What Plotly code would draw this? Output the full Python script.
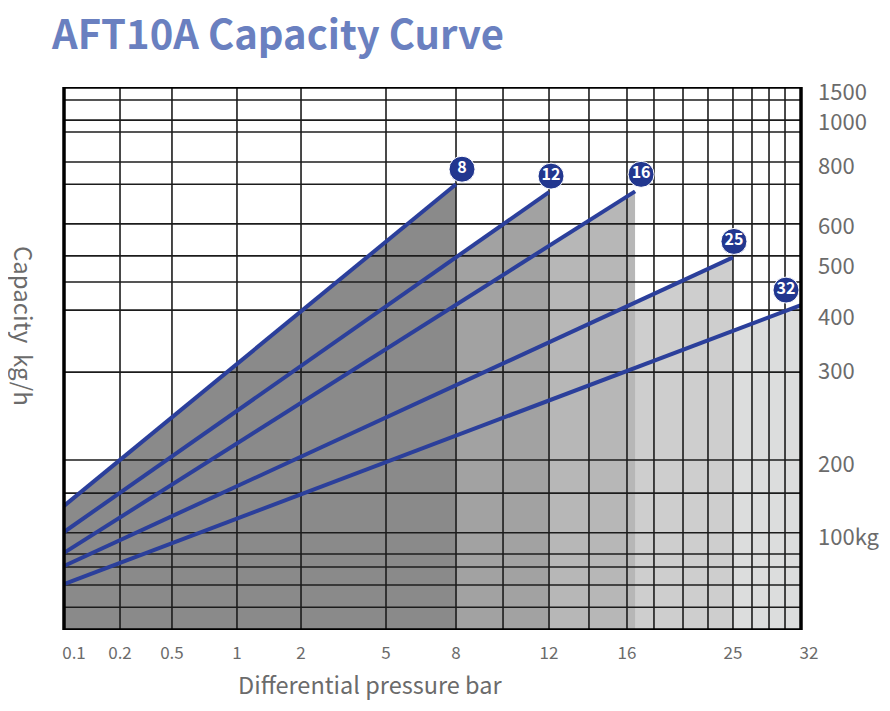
import numpy as np
import plotly.graph_objects as go

# ---------------- data ----------------
series_names = ["8", "12", "16", "25", "32"]          # curve labels (max differential pressure)
min_pressure = 0.1                                     # bar, where every curve starts
max_pressure = [8, 12, 16.6, 25, 32]                   # bar, where each curve ends
cap_at_min = [134, 101, 90.5, 80.8, 70.5]              # kg/h at 0.1 bar
cap_at_max = [700, 680, 682, 497, 409]                 # kg/h at the curve end

x_tick_values = [0.1, 0.2, 0.5, 1, 2, 5, 8, 12, 16, 25, 32]
x_tick_labels = ["0.1", "0.2", "0.5", "1", "2", "5", "8", "12", "16", "25", "32"]
y_tick_values = [100, 200, 300, 400, 500, 600, 800, 1000, 1500]
y_tick_labels = ["100kg", "200", "300", "400", "500", "600", "800", "1000", "1500"]

# ------------- the chart's own hand-drawn (non-uniform) scales -------------
# grid values and their relative position inside the frame (0 = left/bottom, 1 = right/top)
X_GRID_VALUES = [0.1, 0.2, 0.5, 1, 2, 5, 8, 10, 12, 14, 16, 18, 20, 22, 25, 27, 29, 30.5, 32]
X_GRID_FRAC = [0.0, 0.076, 0.1465, 0.2347, 0.3216, 0.4369, 0.5319, 0.5957, 0.6581, 0.7123,
               0.7639, 0.8005, 0.8399, 0.8738, 0.9077, 0.9335, 0.9566, 0.9783, 1.0]
Y_GRID_VALUES = [60, 70, 80, 90, 100, 150, 200, 300, 400, 450, 500, 600, 700, 800, 900, 1000, 1500]
Y_GRID_FRAC = [0.042, 0.083, 0.116, 0.140, 0.179, 0.252, 0.313, 0.475, 0.589, 0.641,
               0.689, 0.748, 0.821, 0.862, 0.917, 0.939, 0.976]


def sx(v):
    return float(np.interp(v, X_GRID_VALUES, X_GRID_FRAC))


def sy(v):
    return float(np.interp(v, Y_GRID_VALUES, Y_GRID_FRAC))


# ---------------- layout / style ----------------
W, H = 890, 711
PAGE_OFF = 8                      # default body margin of the page holding the figure
FRAME_L, FRAME_R, FRAME_T, FRAME_B = 64, 801, 87, 630   # frame in window pixels
FW, FH = FRAME_R - FRAME_L, FRAME_B - FRAME_T
AX_L, AX_R = 54, 811              # x-axis range drawn a little wider than the frame
M_L = AX_L - PAGE_OFF
M_R = W - (AX_R - PAGE_OFF)
M_T = FRAME_T - PAGE_OFF
M_B = H - (FRAME_B - PAGE_OFF)
FONT = "Noto Sans CJK SC"
GRAY_TXT = "#6b6b6b"
LINE_BLUE = "#2b3f9b"
DOT_BLUE = "#22378f"
FILL_COLORS = ["#8a8a8a", "#a2a2a2", "#b7b7b7", "#cecece", "#dcdddd"]
LABEL_OFFSET_PX = [(6, -15), (2, -16), (6, -17), (1, -16), (-15, -15)]   # badge offset from curve end
X_LABEL_NUDGE_PX = {0.1: 10, 32: 8}
Y_LABEL_NUDGE_PX = {1500: -8, 1000: 2, 800: 4, 600: 2, 500: 10, 400: 7, 300: -1, 200: 4, 100: 4}


def paper_xy(px, py):
    """window pixel -> paper coordinates"""
    pw = W - M_L - M_R
    ph = H - M_T - M_B
    return (px - PAGE_OFF - M_L) / pw, (H - M_B - (py - PAGE_OFF)) / ph


fig = go.Figure()

# filled areas (lightest first so darker ones sit on top)
for i in reversed(range(len(series_names))):
    xs = [sx(min_pressure), sx(max_pressure[i])]
    ys = [sy(cap_at_min[i]), sy(cap_at_max[i])]
    fig.add_trace(go.Scatter(x=xs, y=ys, mode="lines", fill="tozeroy",
                             fillcolor=FILL_COLORS[i], line=dict(width=0, color=FILL_COLORS[i]),
                             hoverinfo="skip", showlegend=False))

# grid lines (drawn over the fills)
gx, gy = [], []
for f in X_GRID_FRAC[1:-1]:
    gx += [f, f, None]
    gy += [0, 1, None]
for f in Y_GRID_FRAC:
    gx += [0, 1, None]
    gy += [f, f, None]
fig.add_trace(go.Scatter(x=gx, y=gy, mode="lines", line=dict(color="#1c1c1c", width=1.6),
                         hoverinfo="skip", showlegend=False))

# capacity curves
for i in range(len(series_names)):
    xs = [sx(min_pressure), sx(max_pressure[i])]
    ys = [sy(cap_at_min[i]), sy(cap_at_max[i])]
    fig.add_trace(go.Scatter(x=xs, y=ys, mode="lines", line=dict(color=LINE_BLUE, width=4),
                             name=series_names[i], showlegend=False))

# numbered badges at curve ends
bx, by = [], []
for i in range(len(series_names)):
    dx, dy = LABEL_OFFSET_PX[i]
    bx.append(sx(max_pressure[i]) + dx / FW)
    by.append(sy(cap_at_max[i]) - dy / FH)
fig.add_trace(go.Scatter(x=bx, y=by, mode="markers+text", text=series_names,
                         textposition="middle center",
                         textfont=dict(family=FONT, size=16, color="white", weight="bold"),
                         marker=dict(size=26, color=DOT_BLUE, line=dict(color="white", width=1)),
                         hoverinfo="skip", showlegend=False))

# frame
fig.add_shape(type="rect", xref="x", yref="y", x0=0, x1=1, y0=0, y1=1,
              line=dict(color="black", width=3.5), layer="above")

ext_l = (FRAME_L - AX_L) / FW
ext_r = (AX_R - FRAME_R) / FW
fig.update_xaxes(range=[-ext_l, 1 + ext_r], showgrid=False, zeroline=False, showline=False,
                 ticks="", automargin=False, fixedrange=True,
                 tickvals=[sx(v) + X_LABEL_NUDGE_PX.get(v, 0) / FW for v in x_tick_values],
                 ticktext=x_tick_labels, ticklabelstandoff=11,
                 tickfont=dict(family=FONT, size=17, color=GRAY_TXT))
fig.update_yaxes(range=[0, 1], side="right", showgrid=False, zeroline=False, showline=False,
                 ticks="", automargin=False, fixedrange=True,
                 tickvals=[sy(v) - Y_LABEL_NUDGE_PX.get(v, 0) / FH for v in y_tick_values],
                 ticktext=y_tick_labels, ticklabelstandoff=6,
                 tickfont=dict(family=FONT, size=22, color=GRAY_TXT))

tx, ty = paper_xy(49, 32)
fig.add_annotation(text="<b>AFT10A Capacity Curve</b>", xref="paper", yref="paper", x=tx, y=ty,
                   xanchor="left", yanchor="middle", showarrow=False,
                   font=dict(family=FONT, size=40, color="#6a80c0"))
ax_, ay_ = paper_xy(370, 684)
fig.add_annotation(text="Differential pressure bar", xref="paper", yref="paper", x=ax_, y=ay_,
                   xanchor="center", yanchor="middle", showarrow=False,
                   font=dict(family=FONT, size=23.5, color=GRAY_TXT))
yx, yy = paper_xy(25, 326)
fig.add_annotation(text="Capacity\u00a0 kg/h", xref="paper", yref="paper", x=yx, y=yy,
                   xanchor="center", yanchor="middle", showarrow=False, textangle=90,
                   font=dict(family=FONT, size=24, color=GRAY_TXT))

fig.update_layout(width=W, height=H, template="none",
                  margin=dict(l=M_L, r=M_R, t=M_T, b=M_B, pad=0),
                  paper_bgcolor="white", plot_bgcolor="white", showlegend=False)

fig.write_html("out.html")
